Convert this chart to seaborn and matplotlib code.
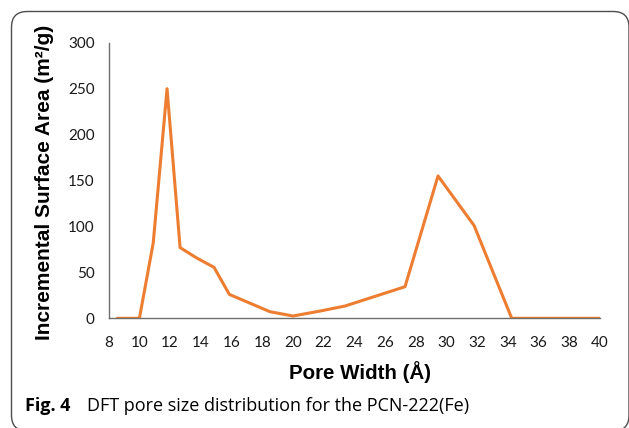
import matplotlib
matplotlib.use("Agg")
import matplotlib.pyplot as plt
from matplotlib.patches import FancyBboxPatch
import seaborn as sns
import pandas as pd

# Data
pore_width = [8.56, 10.0, 10.9, 11.8, 12.65, 13.7, 14.86, 15.86, 18.5, 20.0, 21.8, 23.4, 27.3, 29.45, 31.8, 34.25, 40.0]
surface_area = [0, 0, 82, 250, 77, 66, 55.5, 26, 7.2, 2.5, 8, 13.4, 34.4, 155, 101, 0, 0]
x_ticks = list(range(8, 41, 2))
y_ticks = [0, 50, 100, 150, 200, 250, 300]

df = pd.DataFrame({"w": pore_width, "a": surface_area})

sns.set_style("white")
plt.rcParams["font.family"] = ["Lato", "DejaVu Sans"]

W, H = 629, 428
fig = plt.figure(figsize=(W / 100, H / 100), dpi=100)

def fx(px):
    return px / W

def fy(py):
    return 1 - py / H

# Frame (rounded box, slightly cropped on bottom/right)
box = FancyBboxPatch((fx(11.5), fy(431)), fx(629) - fx(11.5), fy(11.5) - fy(431),
                     boxstyle="round,pad=0,rounding_size=0.025",
                     transform=fig.transFigure, fill=False, edgecolor="#4d4d4d",
                     linewidth=1.0, mutation_aspect=W / H)
fig.patches.append(box)

ax = fig.add_axes([fx(108.7), fy(318.3), fx(600) - fx(108.7), fy(42.8) - fy(318.3)])
sns.lineplot(data=df, x="w", y="a", ax=ax, color="#ED7D31", linewidth=2.2, sort=False)

ax.set_xlim(8, 40)
ax.set_ylim(0, 300)
ax.set_xticks(x_ticks)
ax.set_yticks(y_ticks)
ax.set_xlabel("")
ax.set_ylabel("")
for s in ["top", "right"]:
    ax.spines[s].set_visible(False)
for s in ["left", "bottom"]:
    ax.spines[s].set_color("#6e6e6e")
    ax.spines[s].set_linewidth(1.0)
ax.tick_params(axis="x", direction="inout", length=9, width=1.0, color="#333333",
               labelsize=11, pad=8, labelcolor="#1a1a1a")
ax.tick_params(axis="y", direction="out", length=5, width=1.0, color="#333333",
               labelsize=11, pad=5, labelcolor="#1a1a1a")
ax.patch.set_alpha(0)

fig.text(fx(360), fy(372), "Pore Width (Å)", ha="center", va="center",
         fontsize=14.8, fontweight="bold", family=["Liberation Sans", "DejaVu Sans"], color="#000000")
fig.text(fx(45), fy(182), "Incremental Surface Area (m²/g)", ha="center", va="center",
         rotation=90, fontsize=15, fontweight="bold", family=["Liberation Sans", "DejaVu Sans"],
         color="#000000")

fig.text(fx(25), fy(406), "Fig. 4", ha="left", va="center", fontsize=13,
         fontweight="bold", family=["Open Sans", "DejaVu Sans"], color="#000000")
fig.text(fx(87), fy(406), "DFT pore size distribution for the PCN-222(Fe)", ha="left",
         va="center", fontsize=13.0, family=["Open Sans", "DejaVu Sans"], color="#000000")

fig.savefig("out.png", dpi=100)
